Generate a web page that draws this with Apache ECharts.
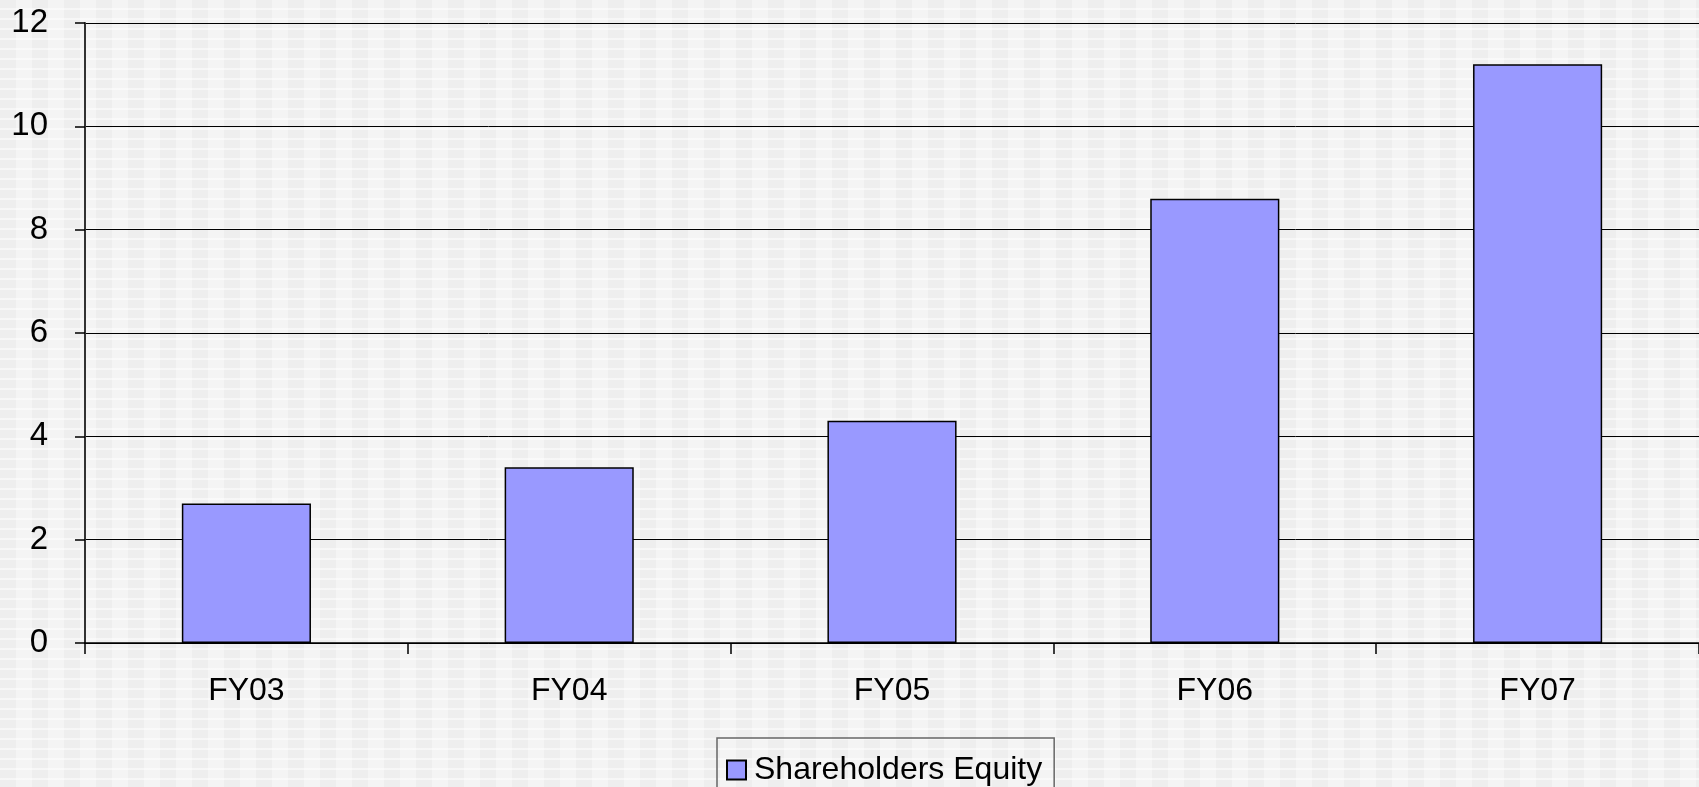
<!DOCTYPE html>
<html>
<head>
<meta charset="utf-8">
<title>Shareholders Equity</title>
<script src="https://cdn.jsdelivr.net/npm/echarts@6/dist/echarts.min.js"></script>
<style>
  html, body { margin: 0; padding: 0; }
  #main {
    width: 1699px;
    height: 787px;
    /* checkered backdrop like the original slide */
    background-color: #f0f0f0;
    background-image:
      repeating-linear-gradient(to bottom, transparent 0px, transparent 8px, rgba(255,255,255,0.5) 8px, rgba(255,255,255,0.5) 10px),
      repeating-linear-gradient(to right, #eeeeee 0px, #eeeeee 16px, #f4f4f4 16px, #f4f4f4 32px);
  }
</style>
</head>
<body>
<div id="main"></div>
<script>
// data
const years = ['FY03', 'FY04', 'FY05', 'FY06', 'FY07']
const equity = [2.7, 3.4, 4.3, 8.6, 11.2]
const seriesName = 'Shareholders Equity'

const chart = echarts.init(document.getElementById('main'), null, { renderer: 'canvas' })

const option = {
  backgroundColor: 'transparent',
  animation: false,
  textStyle: { fontFamily: 'Liberation Sans, Arial, sans-serif' },
  grid: {
    left: 85,
    right: 0,
    top: 23,
    bottom: 144,
    containLabel: false
  },
  legend: {
    data: [seriesName],
    icon: 'rect',
    left: 717,
    top: 738,
    orient: 'horizontal',
    itemWidth: 19,
    itemHeight: 19,
    borderColor: '#666',
    borderWidth: 1.5,
    borderRadius: 0,
    padding: [16, 12, 30, 9],
    itemStyle: { borderColor: '#000', borderWidth: 2 },
    textStyle: {
      fontSize: 32,
      color: '#000',
      padding: [0, 0, 0, 3]
    }
  },
  xAxis: {
    type: 'category',
    data: years,
    axisLine: { show: true, lineStyle: { color: '#000', width: 1.5 } },
    axisTick: { show: true, length: 11, lineStyle: { color: '#000', width: 1.5 } },
    axisLabel: { fontSize: 32, color: '#000', margin: 32 },
    splitLine: { show: false }
  },
  yAxis: {
    type: 'value',
    min: 0,
    max: 12,
    interval: 2,
    axisLine: { show: true, lineStyle: { color: '#333', width: 2 } },
    axisTick: { show: true, length: 10, lineStyle: { color: '#000', width: 1.5 } },
    axisLabel: { fontSize: 33, color: '#000', margin: 37 },
    splitLine: { show: true, lineStyle: { color: '#000', width: 1 } }
  },
  series: [
    {
      name: seriesName,
      type: 'bar',
      data: equity,
      barWidth: '40%',
      itemStyle: {
        color: '#9999ff',
        borderColor: '#000',
        borderWidth: 1.5
      }
    }
  ]
}

chart.setOption(option)
</script>
</body>
</html>
